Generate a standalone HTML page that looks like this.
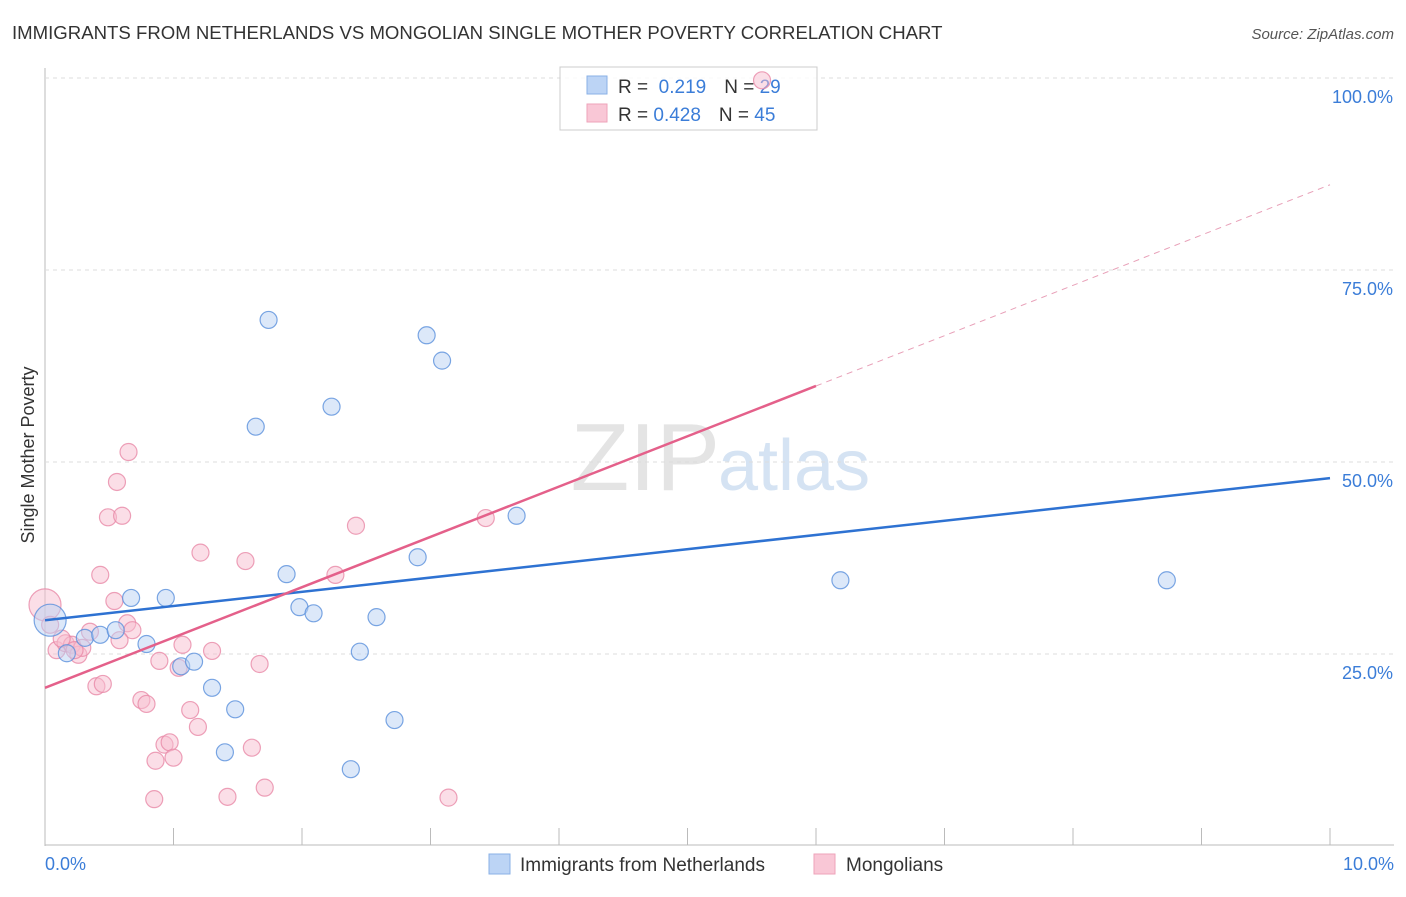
<!DOCTYPE html>
<html><head><meta charset="utf-8"><style>
body{margin:0;background:#fff;font-family:"Liberation Sans",sans-serif;}
svg text{font-family:"Liberation Sans",sans-serif;}
</style></head><body>
<svg id="chart" width="1406" height="892">
<text x="12" y="39" font-size="18.6" fill="#333">IMMIGRANTS FROM NETHERLANDS VS MONGOLIAN SINGLE MOTHER POVERTY CORRELATION CHART</text>
<text x="1394" y="39" font-size="15" fill="#555" text-anchor="end" font-style="italic">Source: ZipAtlas.com</text>
<text x="720" y="490" font-size="96" fill="#e4e4e4" text-anchor="end" font-family="Liberation Serif">ZIP</text>
<text x="718" y="490" font-size="72" fill="#d5e3f3">atlas</text>
<g id="grid"></g>
<g>
<rect x="560" y="67" width="257" height="63" fill="#fff" fill-opacity="0.85" stroke="#ccc"/>
<rect x="587" y="76" width="20" height="18" fill="#bcd4f5" stroke="#8ab0e6"/>
<rect x="587" y="104" width="20" height="18" fill="#f9c7d6" stroke="#eea3ba"/>
<text x="618" y="93" font-size="19" fill="#333">R = <tspan fill="#3b7dd8">&#160;0.219</tspan><tspan dx="18">N = </tspan><tspan fill="#3b7dd8">29</tspan></text>
<text x="618" y="121" font-size="19" fill="#333">R = <tspan fill="#3b7dd8">0.428</tspan><tspan dx="18">N = </tspan><tspan fill="#3b7dd8">45</tspan></text>
</g>
<g id="marks"></g>
<text transform="translate(34,455) rotate(-90)" font-size="18" fill="#333" text-anchor="middle">Single Mother Poverty</text>
<text x="45" y="870" font-size="18" fill="#3b7dd8">0.0%</text>
<text x="1394" y="870" font-size="18" fill="#3b7dd8" text-anchor="end">10.0%</text>
<g>
<rect x="489" y="854" width="21" height="20" fill="#bcd4f5" stroke="#8ab0e6"/>
<text x="520" y="871" font-size="19" fill="#333">Immigrants from Netherlands</text>
<rect x="814" y="854" width="21" height="20" fill="#f9c7d6" stroke="#eea3ba"/>
<text x="846" y="871" font-size="19" fill="#333">Mongolians</text>
</g>
</svg>
<script>
const yTicks=[25,50,75,100];
const yTickLabels=["25.0%","50.0%","75.0%","100.0%"];
const blueX=[0.04,0.17,0.31,0.43,0.55,0.67,0.79,0.94,1.06,1.16,1.30,1.48,1.40,1.64,1.74,1.88,1.98,2.09,2.23,2.38,2.45,2.58,2.72,2.90,2.97,3.09,3.67,6.19,8.73];
const blueY=[29.4,25.1,27.1,27.5,28.1,32.3,26.3,32.3,23.4,24.0,20.6,17.8,12.2,54.6,68.5,35.4,31.1,30.3,57.2,10.0,25.3,29.8,16.4,37.6,66.5,63.2,43.0,34.6,34.6];
const pinkX=[0,0.04,0.09,0.16,0.21,0.26,0.29,0.35,0.40,0.43,0.45,0.49,0.54,0.56,0.60,0.64,0.65,0.68,0.75,0.79,0.85,0.86,0.89,0.93,0.97,1.00,1.04,1.07,1.13,1.19,1.21,1.30,1.42,1.56,1.61,1.67,1.71,2.26,2.42,3.14,3.43,5.58,0.13,0.23,0.58];
const pinkY=[31.4,28.8,25.5,26.4,26.2,24.9,25.8,27.9,20.8,35.3,21.1,42.8,31.9,47.4,43.0,29.0,51.3,28.1,19.0,18.5,6.1,11.1,24.1,13.2,13.5,11.5,23.2,26.2,17.7,15.5,38.2,25.4,6.4,37.1,12.8,23.7,7.6,35.3,41.7,6.3,42.7,99.7,27.0,25.5,26.8];
const blueLine=[29.4,1.85]; // intercept, slope
const pinkLine=[20.6,6.55];
const NS='http://www.w3.org/2000/svg';
const xs=v=>45+v*128.5, ys=v=>846-v*7.68;
function mk(tag,attrs,parent){const e=document.createElementNS(NS,tag);for(const k in attrs)e.setAttribute(k,attrs[k]);parent.appendChild(e);return e;}
const grid=document.getElementById('grid'), marks=document.getElementById('marks');
let ax=mk('line',{x1:45,y1:68,x2:45,y2:846,stroke:'#bbb'},grid);


let bx=mk('line',{x1:45,y1:845,x2:1394,y2:845,stroke:'#bbb'},grid);


for(let i=1;i<=10;i++){const t=mk('line',{x1:xs(i),y1:828,x2:xs(i),y2:845,stroke:'#bbb'},grid);

}
yTicks.forEach((v,i)=>{const g=mk('line',{x1:45,y1:ys(v),x2:1394,y2:ys(v),stroke:'#ddd','stroke-dasharray':'4,4'},grid);


const t=mk('text',{x:1393,y:ys(v)+25,'font-size':18,fill:'#3b7dd8','text-anchor':'end'},grid);t.textContent=yTickLabels[i];

});
function dots(X,Y,fill,stroke,name){X.forEach((x,i)=>{const big=(i===0&&x<0.05);const c=mk('circle',{cx:xs(x),cy:ys(Y[i]),r:big?16:8.5,fill:fill,stroke:stroke,'stroke-width':1.2,'fill-opacity':0.5,'stroke-opacity':0.8},marks);

});}
dots(pinkX,pinkY,'#f8bdd0','#e98aa8','mongolians-point');
dots(blueX,blueY,'#b9d1f3','#5a90dc','netherlands-point');
let bl=mk('line',{x1:xs(0),y1:ys(blueLine[0]),x2:xs(10),y2:ys(blueLine[0]+10*blueLine[1]),stroke:'#2e72d2','stroke-width':2.5},marks);


let pl=mk('line',{x1:xs(0),y1:ys(pinkLine[0]),x2:xs(6),y2:ys(pinkLine[0]+6*pinkLine[1]),stroke:'#e4608a','stroke-width':2.5},marks);


let pd=mk('line',{x1:xs(6),y1:ys(pinkLine[0]+6*pinkLine[1]),x2:xs(10),y2:ys(pinkLine[0]+10*pinkLine[1]),stroke:'#e8a0b8','stroke-width':1,'stroke-dasharray':'6,5'},marks);


</script>
</body></html>
